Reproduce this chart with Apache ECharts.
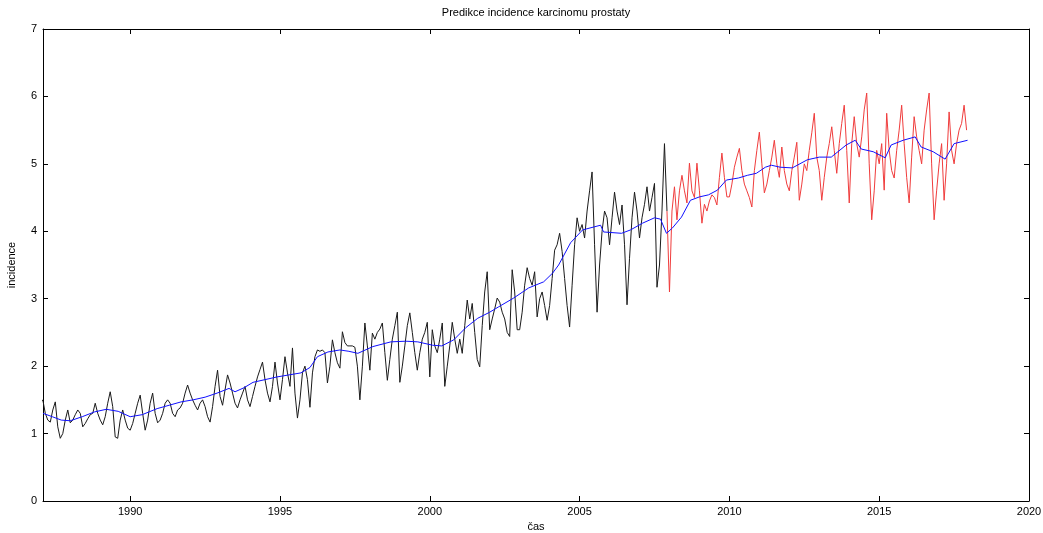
<!DOCTYPE html>
<html>
<head>
<meta charset="utf-8">
<script src="https://cdn.jsdelivr.net/npm/echarts@6/dist/echarts.min.js"></script>
<style>
  html, body { margin: 0; padding: 0; background: #fff; }
  #main { width: 1043px; height: 533px; }
</style>
</head>
<body>
<div id="main"></div>
<script>
  // merena data (mesicni), 1987 - 2007
  var blackStart = 1987;
  var blackValues = [
    1.45, 1.5, 1.3, 1.2, 1.17, 1.35, 1.47, 1.1, 0.93, 1.0, 1.2, 1.35,
    1.16, 1.2, 1.28, 1.35, 1.3, 1.1, 1.15, 1.22, 1.28, 1.3, 1.45, 1.3,
    1.2, 1.13, 1.25, 1.45, 1.62, 1.4, 0.95, 0.93, 1.2, 1.35, 1.2, 1.08,
    1.05, 1.15, 1.3, 1.45, 1.57, 1.3, 1.05, 1.2, 1.45, 1.6, 1.3, 1.16,
    1.2, 1.3, 1.45, 1.5, 1.45, 1.3, 1.25, 1.35, 1.38, 1.45, 1.6, 1.72,
    1.6, 1.5, 1.42, 1.35, 1.45, 1.5, 1.4, 1.25, 1.17, 1.4, 1.7, 1.94,
    1.55, 1.42, 1.65, 1.87, 1.75, 1.6, 1.45, 1.38, 1.5, 1.6, 1.7, 1.5,
    1.4, 1.55, 1.7, 1.84, 1.95, 2.06, 1.8, 1.6, 1.47, 1.7, 2.06, 1.75,
    1.5, 1.8, 2.14, 1.9, 1.7, 2.27, 1.6, 1.23, 1.5, 1.9, 2.0, 1.8,
    1.39, 1.9, 2.14, 2.24, 2.22, 2.24, 2.2, 1.75, 2.0, 2.39, 2.2, 2.05,
    1.97, 2.51, 2.35, 2.3, 2.3, 2.3, 2.28, 2.0, 1.5, 2.0, 2.64, 2.3,
    1.94, 2.49, 2.4, 2.5, 2.55, 2.64, 2.2, 1.79, 2.1, 2.4, 2.6, 2.8,
    1.76, 2.0, 2.3, 2.6, 2.79, 2.5, 2.2, 1.94, 2.2, 2.4, 2.5, 2.65,
    1.84, 2.54, 2.3, 2.2, 2.4, 2.64, 1.7, 2.0, 2.3, 2.65, 2.4, 2.19,
    2.4, 2.19, 2.6, 2.98, 2.7, 2.93, 2.5, 2.1, 1.99, 2.6, 3.1, 3.4,
    2.54, 2.7, 2.85, 3.01, 2.95, 2.8, 2.7, 2.5, 2.44, 3.43, 3.1, 2.54,
    2.54, 2.8, 3.2, 3.46, 3.3, 3.2, 3.4, 2.73, 3.0, 3.1, 2.9, 2.68,
    2.9, 3.3, 3.72, 3.8, 3.97, 3.7, 3.3, 2.9, 2.58, 3.2, 3.8, 4.2,
    4.0, 4.1, 3.9, 4.3, 4.6, 4.88, 3.8, 2.8, 3.5, 4.0, 4.3, 4.2,
    3.8, 4.2, 4.58, 4.3, 4.1, 4.39, 3.8, 2.91, 3.6, 4.2, 4.58, 4.3,
    3.9, 4.2, 4.4, 4.66, 4.3, 4.5, 4.71, 3.17, 3.5, 4.3, 5.3, 4.3
  ];

  // predikce (mesicni), 2008 - 2017
  var redStart = 2008;
  var redValues = [
    3.1, 4.3, 4.66, 4.17, 4.6, 4.83, 4.6, 4.42, 5.01, 4.6, 4.5, 5.01,
    4.6, 4.12, 4.4, 4.3, 4.45, 4.54, 4.5, 4.39, 4.8, 5.16, 4.8, 4.51,
    4.51, 4.7, 4.95, 5.1, 5.23, 4.9, 4.7, 4.6, 4.5, 4.36, 4.9, 5.2,
    5.47, 5.0, 4.57, 4.7, 4.9, 5.1, 5.35, 5.0, 4.8, 5.25, 4.9, 4.7,
    4.6, 4.9, 5.1, 5.32, 4.46, 4.7, 5.0, 4.9, 5.2, 5.46, 5.75, 5.1,
    4.9, 4.46, 4.8, 5.1, 5.3, 5.55, 5.2, 4.86, 5.3, 5.6, 5.87, 5.2,
    4.42, 5.3, 5.7, 5.3, 5.1, 5.4, 5.8, 6.05, 5.0, 4.17, 4.6, 5.2,
    5.0, 5.3, 4.61, 5.75, 5.2, 4.9, 4.79, 5.2, 5.5, 5.87, 5.3, 4.8,
    4.42, 5.1, 5.7, 5.4, 5.2, 5.0, 5.5, 5.8, 6.05, 5.0, 4.17, 4.6,
    5.0, 5.3, 4.46, 5.0, 5.77, 5.2, 5.0, 5.3, 5.5, 5.6, 5.87, 5.5
  ];

  // vyhlazeny trend
  var trendYears = [
    1987.09, 1987.4, 1987.7, 1988.0, 1988.4, 1988.8, 1989.2, 1989.6, 1990.0, 1990.4,
    1990.9, 1991.3, 1991.7, 1992.1, 1992.5, 1992.9, 1993.3, 1993.5, 1993.8, 1994.1,
    1994.5, 1994.9, 1995.3, 1995.7, 1996.0, 1996.25, 1996.6, 1997.0, 1997.3, 1997.6,
    1998.1, 1998.7, 1999.2, 1999.6, 2000.1, 2000.4, 2000.8, 2001.2, 2001.6, 2002.0,
    2002.3, 2002.8, 2003.3, 2003.8, 2004.1, 2004.3, 2004.7, 2005.1, 2005.7, 2005.8,
    2006.4, 2006.7, 2007.1, 2007.5, 2007.7, 2007.9, 2008.1, 2008.4, 2008.7, 2009.0,
    2009.3, 2009.6, 2009.9, 2010.3, 2010.6, 2010.9, 2011.2, 2011.4, 2011.7, 2012.1,
    2012.6, 2013.0, 2013.4, 2013.9, 2014.2, 2014.4, 2014.8, 2015.2, 2015.4, 2015.8,
    2016.2, 2016.4, 2016.8, 2017.2, 2017.5, 2017.95
  ];
  var trendValues = [
    1.3, 1.25, 1.2, 1.19, 1.25, 1.32, 1.36, 1.33, 1.25, 1.28,
    1.37, 1.42, 1.47, 1.5, 1.54, 1.6, 1.67, 1.62, 1.68, 1.76,
    1.8, 1.84, 1.87, 1.9, 1.98, 2.14, 2.21, 2.24, 2.22, 2.19,
    2.29, 2.36, 2.37, 2.36, 2.31, 2.3, 2.39, 2.57, 2.71, 2.8,
    2.88, 3.01, 3.16, 3.25, 3.38, 3.5, 3.83, 4.02, 4.09, 3.99,
    3.97, 4.02, 4.12, 4.2, 4.18, 3.97, 4.05, 4.21, 4.46, 4.51,
    4.54, 4.61, 4.76, 4.79, 4.83, 4.86, 4.95, 4.98, 4.95, 4.94,
    5.06, 5.1, 5.1, 5.28, 5.35, 5.22, 5.18, 5.09, 5.28, 5.35,
    5.4, 5.25, 5.18, 5.07, 5.3, 5.35
  ];

  var xTicks = [1990, 1995, 2000, 2005, 2010, 2015, 2020];

  function monthly(start, values) {
    var out = [];
    for (var i = 0; i < values.length; i++) {
      out.push([start + i / 12, values[i]]);
    }
    return out;
  }

  var blackData = monthly(blackStart, blackValues);
  var redData = monthly(redStart, redValues);
  redData.unshift(blackData[blackData.length - 1]);
  var trendData = trendYears.map(function (t, i) { return [t, trendValues[i]]; });

  var myChart = echarts.init(document.getElementById('main'), null, { renderer: 'canvas' });
  var font = 'Liberation Sans, Arial, sans-serif';
  var axisCommon = {
    axisLine: { show: true, onZero: false, lineStyle: { color: '#000', width: 1 } },
    splitLine: { show: false },
    axisTick: { inside: true, length: 5, lineStyle: { color: '#000' } }
  };
  function plain(v) { return String(v); }

  var option = {
    backgroundColor: '#fff',
    animation: false,
    textStyle: { fontFamily: font },
    grid: { left: 43, right: 14, top: 29, bottom: 32, containLabel: false, outerBoundsMode: 'none' },
    graphic: [{
      type: 'text',
      x: 536, y: 7,
      style: {
        text: 'Predikce incidence karcinomu prostaty',
        fill: '#000', font: '11px ' + font,
        textAlign: 'center'
      }
    }],
    xAxis: [
      echarts.util.merge({
        type: 'value', position: 'bottom', min: 1987.09, max: 2020,
        name: 'čas', nameLocation: 'middle', nameGap: 17,
        nameTextStyle: { color: '#000', fontSize: 11 },
        axisTick: { customValues: xTicks },
        axisLabel: { customValues: xTicks, formatter: plain, color: '#000', fontSize: 11, margin: 5 }
      }, axisCommon),
      echarts.util.merge({
        type: 'value', position: 'top', min: 1987.09, max: 2020,
        axisTick: { customValues: xTicks },
        axisLabel: { show: false }
      }, axisCommon)
    ],
    yAxis: [
      echarts.util.merge({
        type: 'value', position: 'left', min: 0, max: 7, interval: 1,
        name: 'incidence', nameLocation: 'middle', nameGap: 26,
        nameTextStyle: { color: '#000', fontSize: 11 },
        axisLabel: { formatter: plain, color: '#000', fontSize: 11, margin: 6 }
      }, axisCommon),
      echarts.util.merge({
        type: 'value', position: 'right', min: 0, max: 7, interval: 1,
        axisLabel: { show: false }
      }, axisCommon)
    ],
    series: [
      {
        name: 'data', type: 'line', data: blackData, showSymbol: false,
        lineStyle: { color: '#1a1a1a', width: 1 }, z: 2
      },
      {
        name: 'predikce', type: 'line', data: redData, showSymbol: false,
        lineStyle: { color: '#f03c3c', width: 1 }, z: 2
      },
      {
        name: 'trend', type: 'line', data: trendData, showSymbol: false,
        lineStyle: { color: '#1010ff', width: 1 }, z: 3
      }
    ]
  };
  myChart.setOption(option);
  window.addEventListener('resize', function () { myChart.resize(); });
</script>
</body>
</html>
